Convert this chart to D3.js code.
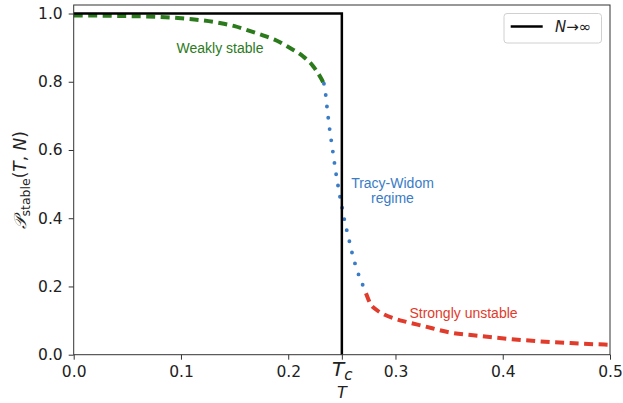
<!DOCTYPE html>
<html><head><meta charset="utf-8">
<script src="https://cdn.jsdelivr.net/npm/d3@7"></script>
<style>body{margin:0;background:#fff}svg{display:block}</style>
</head><body>
<svg id="c" width="623" height="403"></svg>
<script>
// ---- data ----
const Tc = 0.25;
const xTicks = [0, 0.1, 0.2, 0.3, 0.4, 0.5];
const yTicks = [0, 0.2, 0.4, 0.6, 0.8, 1.0];
// weakly stable (green dashed)
const weakT = [0.0, 0.02, 0.04, 0.06, 0.08, 0.10, 0.12, 0.14, 0.15, 0.164, 0.18, 0.189, 0.2017, 0.214, 0.2234, 0.231, 0.2333];
const weakP = [0.994, 0.994, 0.993, 0.992, 0.990, 0.986, 0.980, 0.970, 0.963, 0.949, 0.932, 0.921, 0.899, 0.874, 0.845, 0.808, 0.794];
// Tracy-Widom regime (blue dotted)
const twT = [0.2333, 0.235, 0.2362, 0.2374, 0.2387, 0.2402, 0.2418, 0.2433, 0.2449, 0.2467, 0.2486, 0.2508, 0.2527, 0.2551, 0.2576, 0.2601, 0.2632, 0.2666, 0.2707, 0.2725];
const twP = [0.794, 0.760, 0.725, 0.692, 0.659, 0.626, 0.591, 0.558, 0.524, 0.491, 0.457, 0.423, 0.390, 0.358, 0.325, 0.291, 0.258, 0.226, 0.195, 0.180];
// strongly unstable (red dashed)
const strongT = [0.2725, 0.2765, 0.2825, 0.29, 0.30, 0.309, 0.326, 0.351, 0.379, 0.407, 0.435, 0.463, 0.5];
const strongP = [0.180, 0.150, 0.131, 0.117, 0.105, 0.097, 0.084, 0.065, 0.055, 0.046, 0.039, 0.034, 0.029];
// N -> infinity step
const limT = [0, Tc, Tc];
const limP = [1, 1, 0];

// ---- layout ----
const svg = d3.select("#c");
const L = 73.7, R = 610, T0 = 5, B = 354.7;
const x = d3.scaleLinear().domain([0, 0.5]).range([L, R]);
const y = d3.scaleLinear().domain([0, 1.025]).range([B, T0]);
const tickFont = "DejaVu Sans, sans-serif";
const annFont = "Liberation Sans, Arial, sans-serif";
const green = "#2b7a1c", blue = "#3a7cc6", red = "#e03b2b";

const line = d3.line().x(d => x(d[0])).y(d => y(d[1])).curve(d3.curveMonotoneX);
const zipd = (a, b) => a.map((v, i) => [v, b[i]]);

// curves
svg.append("path").attr("d", line(zipd(weakT, weakP)))
  .attr("fill", "none").attr("stroke", green).attr("stroke-width", 4).attr("stroke-dasharray", "9 5.5");
svg.append("path").attr("d", line(zipd(twT, twP)))
  .attr("fill", "none").attr("stroke", blue).attr("stroke-width", 3.9)
  .attr("stroke-linecap", "round").attr("stroke-dasharray", "0 11.4");
svg.append("path").attr("d", line(zipd(strongT, strongP)))
  .attr("fill", "none").attr("stroke", red).attr("stroke-width", 4).attr("stroke-dasharray", "9 5.5");
svg.append("path").attr("d", d3.line().x(d => x(d[0])).y(d => y(d[1]))(zipd(limT, limP)))
  .attr("fill", "none").attr("stroke", "#000").attr("stroke-width", 2.5);

// axes
const xAxis = d3.axisBottom(x).tickValues([...xTicks, Tc]).tickSize(5).tickPadding(6)
  .tickFormat(d => d === Tc ? "" : d3.format(".1f")(d));
const yAxis = d3.axisLeft(y).tickValues(yTicks).tickSize(5).tickPadding(6).tickFormat(d3.format(".1f"));
const gx = svg.append("g").attr("transform", `translate(0,${B})`).call(xAxis);
const gy = svg.append("g").attr("transform", `translate(${L},0)`).call(yAxis);
[gx, gy].forEach(g => {
  g.select(".domain").remove();
  g.selectAll(".tick line").attr("stroke", "#333").attr("stroke-width", 1);
  g.selectAll(".tick text").attr("fill", "#222").style("font-family", tickFont).style("font-size", "15.5px");
});
// Tc tick label
const tcTick = gx.selectAll(".tick").filter(d => d === Tc).select("text");
tcTick.text(null).attr("dy", null).attr("y", 21.5).style("font-size", "20px");
tcTick.append("tspan").attr("font-style", "italic").text("T");
tcTick.append("tspan").attr("font-style", "italic").attr("dy", 4).style("font-size", "15px").text("c");

// frame
svg.append("rect").attr("x", L).attr("y", T0).attr("width", R - L).attr("height", B - T0)
  .attr("fill", "none").attr("stroke", "#333").attr("stroke-width", 1);

// axis labels
svg.append("text").attr("x", x(Tc)).attr("y", 398).attr("text-anchor", "middle")
  .style("font-family", tickFont).style("font-size", "16px").attr("font-style", "italic").attr("fill", "#222").text("T");
const yl = svg.append("text").attr("transform", `translate(26,${(T0 + B) / 2}) rotate(-90)`)
  .attr("text-anchor", "middle").style("font-family", tickFont).style("font-size", "17px").attr("fill", "#222");
yl.append("tspan").attr("font-style", "italic").style("font-family", "DejaVu Serif, serif").text("𝒫");
yl.append("tspan").attr("dy", 4).style("font-size", "12.5px").text("stable");
yl.append("tspan").attr("dy", -4).text("(");
yl.append("tspan").attr("font-style", "italic").text("T");
yl.append("tspan").text(", ");
yl.append("tspan").attr("font-style", "italic").text("N");
yl.append("tspan").text(")");

// annotations
svg.append("text").attr("x", 220).attr("y", 53).attr("text-anchor", "middle")
  .style("font-family", annFont).style("font-size", "14px").attr("fill", green).text("Weakly stable");
const tw = svg.append("text").attr("text-anchor", "middle")
  .style("font-family", annFont).style("font-size", "14px").attr("fill", blue);
tw.append("tspan").attr("x", 392.5).attr("y", 187.5).text("Tracy-Widom");
tw.append("tspan").attr("x", 392.5).attr("y", 202.5).text("regime");
svg.append("text").attr("x", 463.5).attr("y", 317.5).attr("text-anchor", "middle")
  .style("font-family", annFont).style("font-size", "14px").attr("fill", red).text("Strongly unstable");

// legend
const lg = svg.append("g");
lg.append("rect").attr("x", 504).attr("y", 13.5).attr("width", 97.5).attr("height", 29.5).attr("rx", 3)
  .attr("fill", "#fff").attr("stroke", "#d0d0d0").attr("stroke-width", 1);
lg.append("line").attr("x1", 510.7).attr("x2", 542.7).attr("y1", 26.5).attr("y2", 26.5)
  .attr("stroke", "#000").attr("stroke-width", 2.5);
const lt = lg.append("text").attr("x", 555).attr("y", 31.5)
  .style("font-family", tickFont).style("font-size", "15px").attr("fill", "#222");
lt.append("tspan").attr("font-style", "italic").text("N");
lt.append("tspan").text("→∞");
</script>
</body></html>
